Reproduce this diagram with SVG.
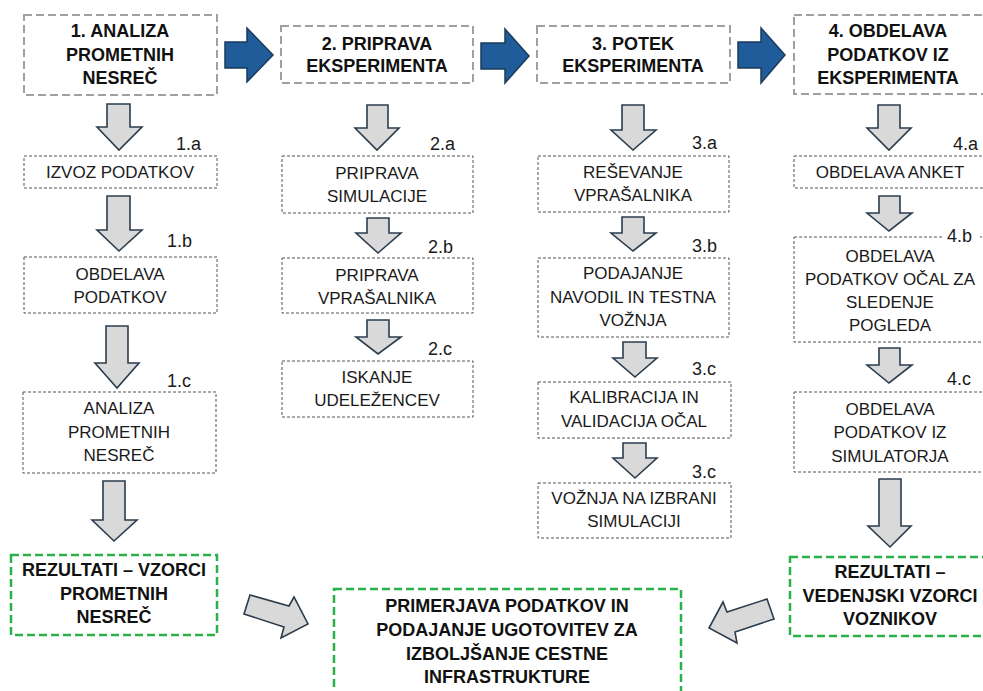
<svg xmlns="http://www.w3.org/2000/svg" width="983" height="691" viewBox="0 0 983 691">
<style>
.main{fill:#fff;stroke:#a0a0a0;stroke-width:2;stroke-dasharray:8 4}
.sub{fill:#fff;stroke:#555;stroke-width:1;stroke-dasharray:3 2}
.res{fill:#fff;stroke:#2ab24a;stroke-width:2.5;stroke-dasharray:8 4}
.b{font-family:"Liberation Sans",Arial,sans-serif;font-size:18px;font-weight:bold;fill:#111;text-anchor:middle}
.r{font-family:"Liberation Sans",Arial,sans-serif;font-size:17px;fill:#1a1a1a;text-anchor:middle}
.lbl{font-family:"Liberation Sans",Arial,sans-serif;font-size:18px;fill:#1a1a1a}
.ga{fill:#d9d9d9;stroke:#2b3d4d;stroke-width:1.6;stroke-linejoin:miter}
.ba{fill:#1f5c99;stroke:#1a3a5a;stroke-width:1.5}
</style>
<rect width="983" height="691" fill="#fff"/>

<g id="connectors">
<polygon class="ba" points="225,42 247,42 247,28 273,55 247,82 247,68 225,68"/>
<polygon class="ba" points="481,43 505,43 505,29 529,56 505,83 505,69 481,69"/>
<polygon class="ba" points="738,42 761,42 761,28 785,55 761,83 761,68 738,68"/>

<polygon class="ga" points="107,104 130,104 130,127 142,127 119,150 97,127 107,127"/>
<polygon class="ga" points="107,196 130,196 130,230 142,230 119,251 97,230 107,230"/>
<polygon class="ga" points="106,326 128,326 128,363 139,363 117,388 95,363 106,363"/>
<polygon class="ga" points="103,481 125,481 125,520 137,520 114,541 92,520 103,520"/>

<polygon class="ga" points="367,105 388,105 388,128 399,128 377,150 355,128 367,128"/>
<polygon class="ga" points="367,218 389,218 389,233 401,233 378,253 356,233 367,233"/>
<polygon class="ga" points="367,320 389,320 389,337 401,337 378,354 356,337 367,337"/>

<polygon class="ga" points="622,105 644,105 644,130 656,130 633,150 611,130 622,130"/>
<polygon class="ga" points="622,217 644,217 644,233 656,233 633,251 611,233 622,233"/>
<polygon class="ga" points="623,342 646,342 646,358 657,358 635,377 613,358 623,358"/>
<polygon class="ga" points="623,443 646,443 646,458 657,458 635,478 613,458 623,458"/>

<polygon class="ga" points="878,105 900,105 900,128 911,128 889,150 867,128 878,128"/>
<polygon class="ga" points="879,196 900,196 900,213 912,213 889,231 867,213 879,213"/>
<polygon class="ga" points="879,348 900,348 900,365 912,365 889,383 867,365 879,365"/>
<polygon class="ga" points="879,479 901,479 901,526 911,526 890,547 868,526 879,526"/>

<polygon class="ga" points="250,595 289,606 294,597 308,624 281,638 284,627 244,614"/>
<polygon class="ga" points="767,599 774,619 735,632 737,643 709,628 723,602 727,612"/>
</g>

<g id="n1">
<rect class="main" x="24" y="15" width="193" height="80"/>
<text class="b" x="120" y="37">1. ANALIZA</text>
<text class="b" x="120" y="61">PROMETNIH</text>
<text class="b" x="120" y="84">NESREČ</text>
</g>
<g id="n1a">
<rect class="sub" x="24" y="156" width="193" height="32"/>
<text class="lbl" x="176" y="150">1.a</text>
<text class="r" x="120" y="178">IZVOZ PODATKOV</text>
</g>
<g id="n1b">
<rect class="sub" x="24" y="257" width="193" height="56"/>
<text class="lbl" x="167" y="247">1.b</text>
<text class="r" x="120" y="280">OBDELAVA</text>
<text class="r" x="120" y="303">PODATKOV</text>
</g>
<g id="n1c">
<rect class="sub" x="23" y="392" width="193" height="81"/>
<text class="lbl" x="167" y="387">1.c</text>
<text class="r" x="119" y="414">ANALIZA</text>
<text class="r" x="119" y="438">PROMETNIH</text>
<text class="r" x="119" y="461">NESREČ</text>
</g>
<g id="r1">
<rect class="res" x="11" y="555" width="206" height="80"/>
<text class="b" x="114" y="576">REZULTATI – VZORCI</text>
<text class="b" x="114" y="600">PROMETNIH</text>
<text class="b" x="114" y="623">NESREČ</text>
</g>

<g id="n2">
<rect class="main" x="281" y="26" width="192" height="57"/>
<text class="b" x="377" y="50">2. PRIPRAVA</text>
<text class="b" x="377" y="72">EKSPERIMENTA</text>
</g>
<g id="n2a">
<rect class="sub" x="282" y="156" width="191" height="57"/>
<text class="lbl" x="430" y="150">2.a</text>
<text class="r" x="377" y="179">PRIPRAVA</text>
<text class="r" x="377" y="202">SIMULACIJE</text>
</g>
<g id="n2b">
<rect class="sub" x="282" y="258" width="191" height="55"/>
<text class="lbl" x="428" y="253">2.b</text>
<text class="r" x="377" y="281">PRIPRAVA</text>
<text class="r" x="377" y="304">VPRAŠALNIKA</text>
</g>
<g id="n2c">
<rect class="sub" x="282" y="361" width="191" height="56"/>
<text class="lbl" x="428" y="355">2.c</text>
<text class="r" x="377" y="383">ISKANJE</text>
<text class="r" x="377" y="406">UDELEŽENCEV</text>
</g>

<g id="n3">
<rect class="main" x="537" y="26" width="193" height="57"/>
<text class="b" x="633" y="50">3. POTEK</text>
<text class="b" x="633" y="72">EKSPERIMENTA</text>
</g>
<g id="n3a">
<rect class="sub" x="538" y="156" width="191" height="56"/>
<text class="lbl" x="692" y="149">3.a</text>
<text class="r" x="633" y="178">REŠEVANJE</text>
<text class="r" x="633" y="201">VPRAŠALNIKA</text>
</g>
<g id="n3b">
<rect class="sub" x="538" y="258" width="191" height="79"/>
<text class="lbl" x="692" y="252">3.b</text>
<text class="r" x="633" y="279">PODAJANJE</text>
<text class="r" x="633" y="303">NAVODIL IN TESTNA</text>
<text class="r" x="633" y="326">VOŽNJA</text>
</g>
<g id="n3c">
<rect class="sub" x="538" y="382" width="193" height="56"/>
<text class="lbl" x="692" y="375">3.c</text>
<text class="r" x="634" y="403">KALIBRACIJA IN</text>
<text class="r" x="634" y="427">VALIDACIJA OČAL</text>
</g>
<g id="n3d">
<rect class="sub" x="538" y="483" width="193" height="55"/>
<text class="lbl" x="692" y="478">3.c</text>
<text class="r" x="634" y="504">VOŽNJA NA IZBRANI</text>
<text class="r" x="634" y="527">SIMULACIJI</text>
</g>

<g id="n4">
<rect class="main" x="794" y="15" width="196" height="79"/>
<text class="b" x="888" y="37">4. OBDELAVA</text>
<text class="b" x="888" y="61">PODATKOV IZ</text>
<text class="b" x="888" y="84">EKSPERIMENTA</text>
</g>
<g id="n4a">
<rect class="sub" x="794" y="156" width="196" height="32"/>
<text class="lbl" x="953" y="150">4.a</text>
<text class="r" x="890" y="178">OBDELAVA ANKET</text>
</g>
<g id="n4b">
<rect class="sub" x="794" y="237" width="196" height="105"/>
<rect x="944" y="228" width="36" height="16" fill="#fff"/>
<text class="lbl" x="947" y="242">4.b</text>
<text class="r" x="890" y="262">OBDELAVA</text>
<text class="r" x="890" y="285">PODATKOV OČAL ZA</text>
<text class="r" x="890" y="308">SLEDENJE</text>
<text class="r" x="890" y="331">POGLEDA</text>
</g>
<g id="n4c">
<rect class="sub" x="794" y="392" width="196" height="80"/>
<text class="lbl" x="947" y="385">4.c</text>
<text class="r" x="890" y="415">OBDELAVA</text>
<text class="r" x="890" y="438">PODATKOV IZ</text>
<text class="r" x="890" y="462">SIMULATORJA</text>
</g>
<g id="r4">
<rect class="res" x="790" y="557" width="200" height="79"/>
<text class="b" x="890" y="578">REZULTATI –</text>
<text class="b" x="890" y="602">VEDENJSKI VZORCI</text>
<text class="b" x="890" y="625">VOZNIKOV</text>
</g>

<g id="final">
<rect class="res" x="334" y="589" width="347" height="110"/>
<text class="b" x="507" y="612">PRIMERJAVA PODATKOV IN</text>
<text class="b" x="507" y="636">PODAJANJE UGOTOVITEV ZA</text>
<text class="b" x="507" y="660">IZBOLJŠANJE CESTNE</text>
<text class="b" x="507" y="683">INFRASTRUKTURE</text>
</g>
</svg>
